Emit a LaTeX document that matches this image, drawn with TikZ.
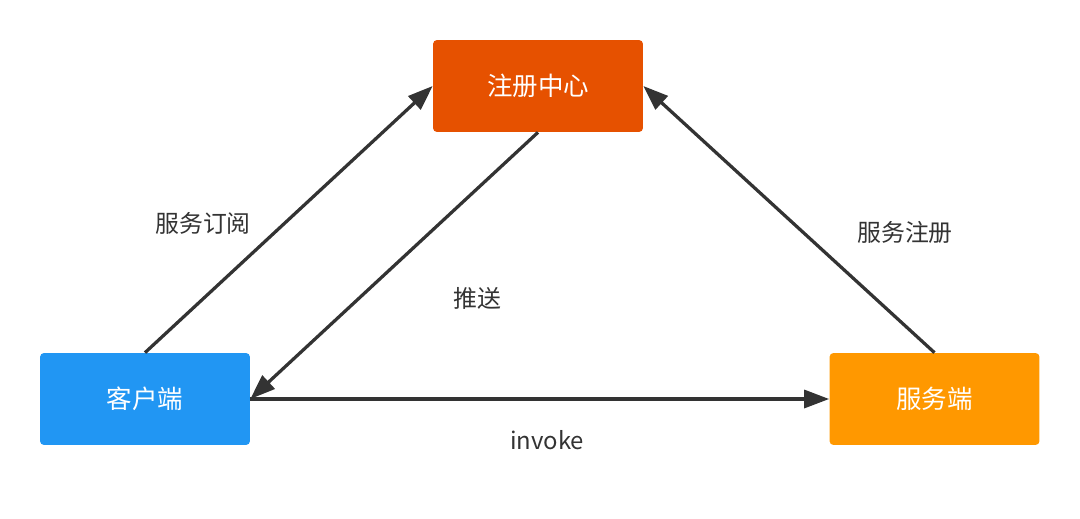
\documentclass[tikz,border=0pt]{standalone}
\usepackage{fontspec}
\setmainfont{Noto Sans CJK SC}
\definecolor{regred}{HTML}{E65100}
\definecolor{cliblue}{HTML}{2196F3}
\definecolor{srvorange}{HTML}{FF9800}
\definecolor{arrowgray}{HTML}{333333}
\usepackage{tikz}
\usetikzlibrary{arrows.meta,positioning}

\begin{document}
\begin{tikzpicture}[x=0.02cm,y=-0.02cm]
\tikzstyle{box}=[rectangle, rounded corners=0.08cm, minimum width=4.2cm, minimum height=1.84cm, text=white, font=\fontsize{14.5}{17}\selectfont]
\tikzstyle{lbl}=[text=arrowgray, font=\fontsize{13.6}{16}\selectfont]
\tikzstyle{connect}=[-{Triangle[length=0.5cm,width=0.36cm]}, line width=0.065cm, draw=arrowgray]
\useasboundingbox (0,0) rectangle (1080,518);

	\node[box,fill=regred] (reg) at (538,86) {注册中心};
	\node[box,fill=cliblue] (cli) at (145,399) {客户端};
	\node[box,fill=srvorange] (srv) at (934.5,399) {服务端};

	\node[lbl] (sub) at (203,223) {服务订阅};
	\node[lbl] (push) at (477,298) {推送};
	\node[lbl] (regist) at (905,232) {服务注册};
	\node[lbl] (inv) at (547,440) {invoke};

	\draw[connect] (cli.north) -- (reg.west);
	\draw[connect] (reg.south) -- (cli.east);
	\draw[connect] (srv.north) -- (reg.east);
	\draw[connect] (cli.east) -- (srv.west);

\end{tikzpicture}
\end{document}
